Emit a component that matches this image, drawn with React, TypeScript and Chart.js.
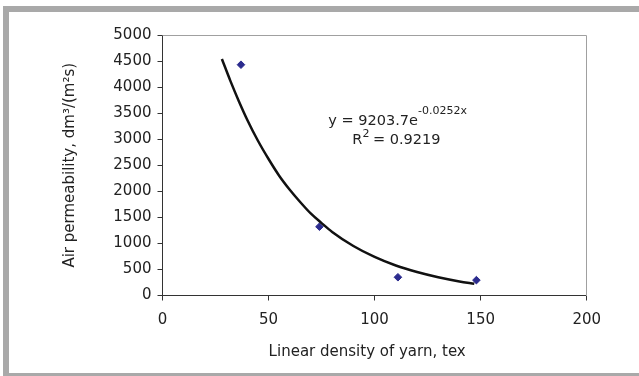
import React, { useEffect, useRef } from "react";
import { Chart, registerables } from "chart.js";

Chart.register(...registerables);

// ---- data ----
const yarnTex = [37, 74, 111, 148];
const airPermeability = [4430, 1320, 350, 295];

// exponential trend line
const trendTex = [28, 32, 36, 40, 45, 50, 55, 60, 65, 70, 75, 80, 90, 100, 110, 120, 130, 140, 147];
const trendPermeability = [4540, 4120, 3730, 3370, 2970, 2620, 2300, 2030, 1790, 1570, 1390, 1220, 950, 740, 575, 450, 350, 270, 225];

const xTickValues = [0, 50, 100, 150, 200];
const yTickValues = [0, 500, 1000, 1500, 2000, 2500, 3000, 3500, 4000, 4500, 5000];

const xTitle = "Linear density of yarn, tex";
const yTitle = "Air permeability, dm³/(m²s)";
const equationMain = "y = 9203.7e";
const equationExp = "-0.0252x";
const r2Main = "R";
const r2Exp = "2";
const r2Rest = " = 0.9219";

const FONT = "'DejaVu Sans', sans-serif";
const TEXT = "#222222";
const AXIS = "#333333";

const framePlugin = {
  id: "frameLines",
  beforeDatasetsDraw(chart: any) {
    const { ctx, chartArea } = chart;
    const top = Math.round(chartArea.top) + 0.5;
    const right = Math.round(chartArea.right) - 0.5;
    const bottom = Math.round(chartArea.bottom);
    ctx.save();
    ctx.strokeStyle = "#a0a0a0";
    ctx.lineWidth = 1;
    ctx.beginPath();
    ctx.moveTo(chartArea.left, top);
    ctx.lineTo(right, top);
    ctx.lineTo(right, bottom);
    ctx.stroke();
    ctx.restore();
  },
};

const textPlugin = {
  id: "annotTexts",
  afterDraw(chart: any) {
    const { ctx } = chart;
    const xs = chart.scales.x;
    const ys = chart.scales.y;
    ctx.save();
    ctx.fillStyle = TEXT;
    ctx.textAlign = "left";
    ctx.textBaseline = "alphabetic";

    // equation
    let x = xs.getPixelForValue(78.2);
    let y = ys.getPixelForValue(3278);
    ctx.font = `14.5px ${FONT}`;
    ctx.fillText(equationMain, x, y);
    let w = ctx.measureText(equationMain).width;
    ctx.font = `11px ${FONT}`;
    ctx.fillText(equationExp, x + w, y - 10.5);

    // R squared
    x = xs.getPixelForValue(89.5);
    y = ys.getPixelForValue(2914);
    ctx.font = `14.5px ${FONT}`;
    ctx.fillText(r2Main, x, y);
    w = ctx.measureText(r2Main).width;
    ctx.font = `11px ${FONT}`;
    ctx.fillText(r2Exp, x + w, y - 6.4);
    const w2 = ctx.measureText(r2Exp).width;
    ctx.font = `14.5px ${FONT}`;
    ctx.fillText(r2Rest, x + w + w2 - 1, y);

    // x-axis title
    ctx.font = `15px ${FONT}`;
    ctx.textAlign = "center";
    ctx.fillText(xTitle, xs.getPixelForValue(96.5), 355.7);
    ctx.restore();
  },
};

export default function App() {
  const canvasRef = useRef<HTMLCanvasElement | null>(null);

  useEffect(() => {
    const canvas = canvasRef.current;
    if (!canvas) return;
    const chart = new Chart(canvas, {
      type: "scatter",
      data: {
        datasets: [
          {
            type: "line",
            label: "Trend",
            data: trendTex.map((x, i) => ({ x, y: trendPermeability[i] })),
            borderColor: "#111111",
            borderWidth: 2.5,
            pointRadius: 0,
            tension: 0.4,
            cubicInterpolationMode: "monotone",
            fill: false,
            order: 0,
          } as any,
          {
            type: "scatter",
            label: "Air permeability",
            data: yarnTex.map((x, i) => ({ x, y: airPermeability[i] })),
            pointStyle: "rectRot",
            pointRadius: 3.8,
            backgroundColor: "#2b2b8e",
            borderColor: "#2b2b8e",
            borderWidth: 1,
            showLine: false,
            order: 1,
          } as any,
        ],
      },
      options: {
        responsive: false,
        animation: false,
        devicePixelRatio: 1,
        layout: { padding: { left: 0, right: 52.3, top: 35, bottom: 0 } },
        plugins: {
          legend: { display: false },
          tooltip: { enabled: false },
        },
        scales: {
          x: {
            type: "linear",
            min: 0,
            max: 200,
            afterBuildTicks: (s: any) => {
              s.ticks = xTickValues.map((v) => ({ value: v }));
            },
            afterFit: (s: any) => {
              s.height = 80.5;
            },
            ticks: {
              font: { family: FONT, size: 15 },
              color: TEXT,
              padding: 11,
              maxRotation: 0,
              callback: (v: any) => String(v),
            },
            grid: { drawOnChartArea: false, drawTicks: true, tickLength: 5, color: AXIS },
            border: { display: true, color: AXIS, width: 1 },
            title: { display: false },
          },
          y: {
            type: "linear",
            min: 0,
            max: 5000,
            afterBuildTicks: (s: any) => {
              s.ticks = yTickValues.map((v) => ({ value: v }));
            },
            afterFit: (s: any) => {
              s.width = 162.5;
            },
            ticks: {
              font: { family: FONT, size: 15 },
              color: TEXT,
              padding: 6,
              callback: (v: any) => String(v),
            },
            grid: { drawOnChartArea: false, drawTicks: true, tickLength: 5, color: AXIS },
            border: { display: true, color: AXIS, width: 1 },
            title: {
              display: true,
              text: yTitle,
              color: TEXT,
              font: { family: FONT, size: 15 },
              padding: { top: 61, bottom: 0 },
            },
          },
        },
      } as any,
      plugins: [framePlugin, textPlugin],
    });
    return () => chart.destroy();
  }, []);

  return (
    <div
      style={{
        position: "absolute",
        left: 0,
        top: 0,
        width: 639,
        height: 376,
        overflow: "hidden",
        background: "#ffffff",
      }}
    >
      <div
        style={{
          position: "absolute",
          left: 3,
          top: 6,
          width: 700,
          height: 373,
          boxSizing: "border-box",
          border: "6px solid #a9a9a9",
        }}
      />
      <canvas
        ref={canvasRef}
        width={639}
        height={376}
        style={{ position: "absolute", left: 0, top: 0, width: 639, height: 376 }}
      />
    </div>
  );
}
